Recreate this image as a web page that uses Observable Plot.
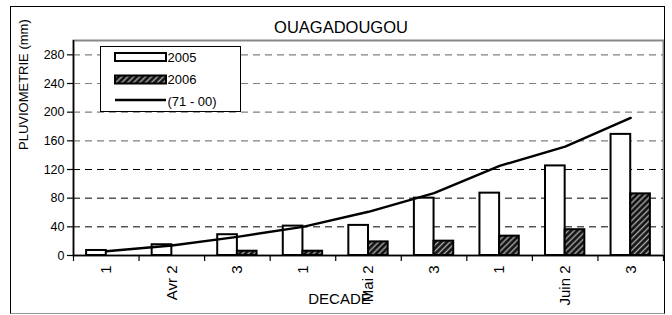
<!DOCTYPE html>
<html><head><meta charset="utf-8">
<script src="https://cdn.jsdelivr.net/npm/d3@7"></script>
<script src="https://cdn.jsdelivr.net/npm/@observablehq/plot@0.6"></script>
<style>
body{margin:0;background:#fff;font-family:"Liberation Sans",Arial,sans-serif;}
#wrap{position:relative;width:672px;height:315px;overflow:hidden;}
#frame{position:absolute;left:10px;top:6px;width:655px;height:308px;box-sizing:border-box;border:1.5px solid #000;border-bottom-color:#999;pointer-events:none;}
#legend{position:absolute;left:100px;top:46px;width:141px;height:66px;box-sizing:border-box;border:1px solid #000;background:#fff;}
#wrap svg{display:block;}
</style></head>
<body><div id="wrap"></div>
<script>
const categories = ["1","Avr 2","3","1","Mai 2","3","1","Juin 2","3"];
const rain2005 = [7,15,29,41,42,80,87,125,169];
const rain2006 = [null,null,6,6,19,20,27,36,86];
const normal7100 = [6,14,26,40,61,87,125,152,192];
const yTicks = [0,40,80,120,160,200,240,280];
const seriesNames = ["2005","2006","(71 - 00)"];

const idx = categories.map((_, i) => i);
const bars05 = idx.map(i => ({i, v: rain2005[i]}));
const bars06 = idx.filter(i => rain2006[i] != null).map(i => ({i, v: rain2006[i]}));
const normal = idx.map(i => ({i, v: normal7100[i]}));
const bounds = [-0.5, ...idx.map(i => i + 0.5)];

const font = "Liberation Sans, Arial, sans-serif";
const chart = Plot.plot({
  width: 672, height: 315,
  marginLeft: 73, marginRight: 9, marginTop: 40, marginBottom: 60,
  style: {background: "transparent", fontFamily: font, color: "#000"},
  x: {type: "linear", domain: [-0.5, 8.5], axis: null},
  y: {domain: [0, 300], axis: null},
  marks: [
    Plot.frame({stroke: "#888", strokeWidth: 2}),
    Plot.ruleY(yTicks.filter(t => t >= 160), {stroke: "#808080", strokeDasharray: "7,5", strokeWidth: 1.2}),
    Plot.ruleY(yTicks.filter(t => t > 0 && t < 160), {stroke: "#000", strokeDasharray: "7,5", strokeWidth: 1}),
    Plot.rectY(bars05, {x1: d => d.i - 0.3, x2: d => d.i, y1: 0, y2: "v", fill: "white", stroke: "black", strokeWidth: 2}),
    Plot.rectY(bars06, {x1: d => d.i, x2: d => d.i + 0.3, y1: 0, y2: "v", fill: "url(#hatch)", stroke: "black", strokeWidth: 2}),
    Plot.line(normal, {x: "i", y: "v", stroke: "black", strokeWidth: 2.4}),
    Plot.ruleX([-0.5], {stroke: "black", strokeWidth: 1.5}),
    Plot.ruleY([0], {stroke: "black", strokeWidth: 1.5}),
    Plot.axisY({ticks: yTicks, tickSize: 6, tickPadding: 3, fontSize: 12.5, label: null, strokeWidth: 1.2}),
    Plot.axisX({ticks: bounds, tickFormat: () => "", tickSize: 6, label: null, strokeWidth: 1.2}),
    Plot.axisX({ticks: idx, tickFormat: i => categories[i], tickSize: 0, tickPadding: 10, tickRotate: -90, fontSize: 15, label: null}),
    Plot.text(["PLUVIOMETRIE (mm)"], {text: d => d, frameAnchor: "left", dx: -50, dy: 2, rotate: -90, fontSize: 13}),
    Plot.text(["DECADE"], {text: d => d, frameAnchor: "bottom", dx: -29, dy: 48, fontSize: 15}),
    Plot.text(["OUAGADOUGOU"], {text: d => d, frameAnchor: "top", dx: -27.5, dy: -19, fontSize: 16.5})
  ]
});

const defs = d3.select(chart).insert("defs", ":first-child");
function addHatch(sel, id) {
  const p = sel.append("pattern").attr("id", id).attr("patternUnits", "userSpaceOnUse")
    .attr("width", 4.2).attr("height", 4.2).attr("patternTransform", "rotate(45)");
  p.append("rect").attr("width", 4.2).attr("height", 4.2).attr("fill", "#111");
  p.append("line").attr("x1", 2.1).attr("x2", 2.1).attr("y1", -1).attr("y2", 6).attr("stroke", "#a8a8a8").attr("stroke-width", 1.4);
}
addHatch(defs, "hatch");

const wrap = document.getElementById("wrap");
wrap.appendChild(chart);

// legend
const leg = d3.select(wrap).append("div").attr("id", "legend");
const ls = leg.append("svg").attr("width", 139).attr("height", 64).style("font-family", font);
addHatch(ls.append("defs"), "hatchLeg");
ls.append("rect").attr("x", 14).attr("y", 6).attr("width", 51).attr("height", 8).attr("fill", "white").attr("stroke", "black").attr("stroke-width", 2);
ls.append("rect").attr("x", 14).attr("y", 28.5).attr("width", 51).attr("height", 8).attr("fill", "url(#hatchLeg)").attr("stroke", "black").attr("stroke-width", 2);
ls.append("line").attr("x1", 14).attr("x2", 65).attr("y1", 53).attr("y2", 53).attr("stroke", "black").attr("stroke-width", 2.3);
const ty = [14.5, 37, 58.5];
seriesNames.forEach((n, k) => {
  ls.append("text").attr("x", 66.5).attr("y", ty[k]).attr("font-size", 13).text(n);
});

d3.select(wrap).append("div").attr("id", "frame");
</script>
</body></html>
